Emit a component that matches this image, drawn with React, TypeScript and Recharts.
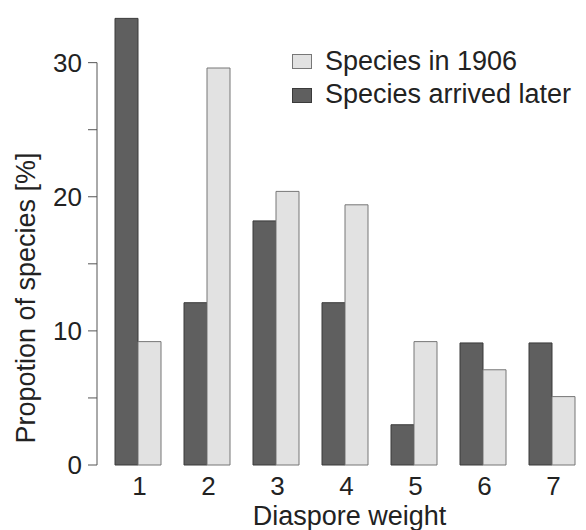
import React from 'react';
import { BarChart, Bar, XAxis, YAxis, Legend, ReferenceLine } from 'recharts';

const categories = ['1', '2', '3', '4', '5', '6', '7'];
const arrivedLater = [33.3, 12.1, 18.2, 12.1, 3.0, 9.1, 9.1];
const in1906 = [9.2, 29.6, 20.4, 19.4, 9.2, 7.1, 5.1];
const yTicks = [0, 5, 10, 15, 20, 25, 30];
const yLabelTicks = [0, 10, 20, 30];

const data = categories.map((weight, i) => ({
    weight,
    later: arrivedLater[i],
    early: in1906[i],
}));

const FONT = '"Liberation Sans", Arial, Helvetica, sans-serif';
const TEXT = '#222';
const AXIS = '#555';

const strokes: Record<string, string> = {
    'Species arrived later': '#3a3a3a',
    'Species in 1906': '#777',
};

const renderLegend = (props: any) => {
    const items = [...(props.payload || [])].reverse();
    return (
        <div style={{ fontFamily: FONT, fontSize: 27, lineHeight: '33.6px', color: TEXT }}>
            {items.map((item: any) => (
                <div key={item.value} style={{ display: 'flex', alignItems: 'flex-start', whiteSpace: 'nowrap' }}>
                    <span
                        style={{
                            display: 'inline-block',
                            width: 20,
                            height: 15,
                            marginTop: 9.5,
                            marginRight: 13,
                            boxSizing: 'border-box',
                            background: item.color,
                            border: `1px solid ${strokes[item.value] || AXIS}`,
                        }}
                    />
                    <span>{item.value}</span>
                </div>
            ))}
        </div>
    );
};

const yLabel = (props: any) => {
    const vb = props.viewBox;
    const x = vb.x + 35;
    const y = vb.y + vb.height / 2 + 61;
    return (
        <text
            x={x}
            y={y}
            transform={`rotate(-90, ${x}, ${y})`}
            textAnchor="middle"
            fill={TEXT}
            fontSize={27}
            fontFamily={FONT}
        >
            Propotion of species [%]
        </text>
    );
};

const xLabel = (props: any) => {
    const vb = props.viewBox;
    return (
        <text
            x={vb.x + vb.width / 2 + 8}
            y={vb.y + vb.height - 5}
            textAnchor="middle"
            fill={TEXT}
            fontSize={27}
            fontFamily={FONT}
        >
            Diaspore weight
        </text>
    );
};

export default function App() {
    return (
        <div style={{ position: 'absolute', left: 0, top: 0, width: 586, height: 530, background: '#fff', fontFamily: FONT }}>
            <BarChart
                width={586}
                height={530}
                data={data}
                barGap={0}
                margin={{ top: 9, right: 0, bottom: 0, left: 0 }}
            >
                <XAxis
                    dataKey="weight"
                    axisLine={false}
                    tickLine={false}
                    interval={0}
                    height={65}
                    tickMargin={6}
                    padding={{ left: 6, right: 0 }}
                    tick={{ fill: TEXT, fontSize: 26, fontFamily: FONT, dx: 2 }}
                    label={{ content: xLabel }}
                />
                <XAxis xAxisId="frame" type="number" domain={[0, 1]} hide allowDataOverflow />
                <YAxis
                    domain={[0, 34]}
                    ticks={yTicks}
                    width={97}
                    axisLine={false}
                    tickLine={{ stroke: AXIS }}
                    tickSize={9}
                    tickMargin={6}
                    tickFormatter={(v: number) => (yLabelTicks.includes(v) ? String(v) : '')}
                    tick={{ fill: TEXT, fontSize: 26, fontFamily: FONT }}
                    label={{ content: yLabel }}
                />
                <ReferenceLine
                    xAxisId="frame"
                    segment={[{ x: 0, y: 0 }, { x: 0, y: 30 }]}
                    stroke={AXIS}
                    ifOverflow="visible"
                />
                <Legend
                    layout="vertical"
                    align="center"
                    verticalAlign="middle"
                    content={renderLegend}
                    wrapperStyle={{ top: 44.6, left: 292, width: 294 }}
                />
                <Bar
                    dataKey="later"
                    name="Species arrived later"
                    fill="#5f5f5f"
                    stroke="#3a3a3a"
                    barSize={23}
                    isAnimationActive={false}
                />
                <Bar
                    dataKey="early"
                    name="Species in 1906"
                    fill="#e2e2e2"
                    stroke="#777"
                    barSize={23}
                    isAnimationActive={false}
                />
            </BarChart>
        </div>
    );
}
